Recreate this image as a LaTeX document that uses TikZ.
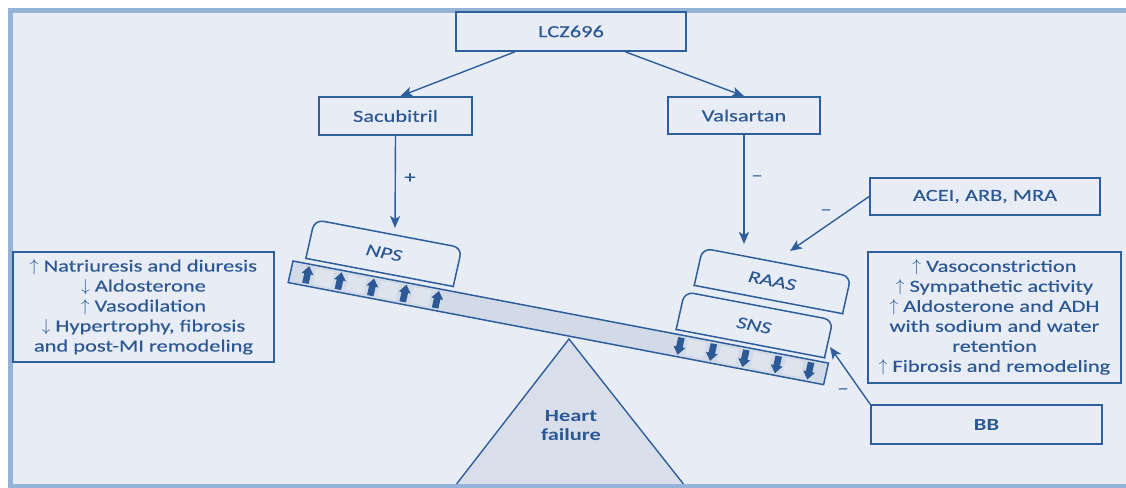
\documentclass[tikz,border=0pt]{standalone}
\usepackage{fontspec}
\setmainfont{Carlito}[FakeStretch=1.32, UprightFeatures={FakeBold=0.3}, ItalicFeatures={FakeBold=0.3}]
\usetikzlibrary{arrows.meta,calc}

\definecolor{ink}{RGB}{44,88,148}
\definecolor{edge}{RGB}{47,94,156}
\definecolor{paper}{RGB}{232,236,244}
\definecolor{rim}{RGB}{149,179,215}
\definecolor{plank}{RGB}{210,218,231}
\definecolor{plate}{RGB}{222,228,238}
\definecolor{prop}{RGB}{216,223,234}
\definecolor{tick}{RGB}{45,89,150}

\tikzset{
  txt/.style={text=ink, font=\fontsize{17}{20}\selectfont, inner sep=0pt, align=center},
  box/.style={txt, draw=edge, line width=1.8pt, fill=paper},
  link/.style={draw=edge, line width=1.4pt, -{Stealth[length=12pt,width=10pt,inset=3pt]}},
  boxline/.style={draw=edge, line width=1.5pt, line cap=rect},
  tilted/.style={txt, font=\fontsize{17}{20}\selectfont\itshape, rotate=-11},
}

\begin{document}
\begin{tikzpicture}[x=1pt,y=-1pt]
\useasboundingbox (0,0) rectangle (1126,487);

% panel
\fill[paper] (10,10) rectangle (1130,486);

% fulcrum
\draw[edge, line width=1.4pt, fill=prop] (455,486) -- (569,339) -- (685,486);
\node[txt, font=\fontsize{17}{19}\selectfont\bfseries] (hf) at (571,426) {Heart\\failure};

% panel rim (left, top and bottom only)
\draw[rim, line width=4.5pt] (1130,10.3) -- (10.3,10.3) -- (10.3,486) -- (1130,486);

% see-saw beam and the systems resting on it
\begin{scope}[shift={(293,261)}, x={(0.9824pt,-0.1873pt)}, y={(-0.22pt,-0.98pt)}]
  \draw[edge, line width=1.5pt, fill=plank] (0,0) -- (545,0) -- (545,22) -- (0,22) -- cycle;
  % lighter plates between the arrows
  \foreach \u in {33.5,66.5,99.5,132.5,412.5,445.5,478.5,511.5}
    \fill[plate] (\u-9,3) -- (\u+9,3) -- (\u+9,19) -- (\u-9,19) -- cycle;
  % up arrows (natriuretic side)
  \foreach \u in {17,50,83,116,149}
    \fill[tick] (\u-3.3,19.5) -- (\u-3.3,10) -- (\u-6,10) -- (\u,2) -- (\u+6,10) -- (\u+3.3,10) -- (\u+3.3,19.5) -- cycle;
  % down arrows (neurohormonal side)
  \foreach \u in {396,429,462,495,528}
    \fill[tick] (\u-3.3,2.5) -- (\u-3.3,12) -- (\u-6,12) -- (\u,20) -- (\u+6,12) -- (\u+3.3,12) -- (\u+3.3,2.5) -- cycle;

  % NPS
  \draw[boxline, rounded corners=9pt] (12,-5) -- (12,-44.5) -- (162,-44.5) -- (162,-5);
  \draw[boxline] (12,-5) -- (162,-5);
  \node[tilted] (nps) at (87,-25) {NPS};
  % SNS
  \draw[boxline, rounded corners=9pt] (389,-4.5) -- (389,-43) -- (540,-43) -- (540,-4.5);
  \draw[boxline] (389,-4.5) -- (540,-4.5);
  \node[tilted] (sns) at (464,-23) {SNS};
  % RAAS
  \draw[boxline, rounded corners=9pt] (397,-51) -- (397,-89) -- (548,-89) -- (548,-51);
  \draw[boxline] (397,-51) -- (548,-51);
  \node[tilted] (raas) at (472,-70) {RAAS};
\end{scope}

% drug boxes
\node[box, minimum width=230pt, minimum height=39pt] (lcz) at (571,31.5) {LCZ696};
\node[box, minimum width=153pt, minimum height=38pt] (sac) at (395.5,116) {Sacubitril};
\node[box, minimum width=152pt, minimum height=37pt] (val) at (744,115.5) {Valsartan};
\node[box, minimum width=230pt, minimum height=37pt] (acei) at (985,196.5) {ACEI, ARB, MRA};
\node[box, minimum width=231pt, minimum height=39pt, font=\fontsize{17}{20}\selectfont\bfseries] (bb) at (986.5,424.5) {BB};

% effect boxes
\node[box, minimum width=261pt, minimum height=110pt] (left) at (143.5,307)
  {$\uparrow$ Natriuresis and diuresis\\ $\downarrow$ Aldosterone\\ $\uparrow$ Vasodilation\\
   $\downarrow$ Hypertrophy, fibrosis\\ and post-MI remodeling};
\node[box, minimum width=253pt, minimum height=131pt] (right) at (994.5,317.5)
  {$\uparrow$ Vasoconstriction\\ $\uparrow$ Sympathetic activity\\ $\uparrow$ Aldosterone and ADH\\
   with sodium and water\\ retention\\ $\uparrow$ Fibrosis and remodeling};

% arrow targets on the systems
\coordinate (npsin) at (395,228);
\coordinate (raasin) at (744,244);
\coordinate (raasside) at (790,251);
\coordinate (snsside) at (830,347);

% connectors
\draw[link] ($(lcz.south west)!0.257!(lcz.south east)$) -- ($(sac.north)+(5,0)$);
\draw[link] ($(lcz.south west)!0.735!(lcz.south east)$) -- (val.north);
\draw[link] (sac.south) -- (npsin);
\draw[link, line width=2.4pt] (val.south) -- (raasin);
\draw[link] (acei.west) -- (raasside);
\draw[link] (bb.north west) -- (snsside);

% signs
\node[txt] (plus) at (410,178) {+};
\node[txt] (minusval) at (757,178) {–};
\node[txt] (minusacei) at (826,212) {–};
\node[txt] (minusbb) at (843,391) {–};
\end{tikzpicture}
\end{document}
